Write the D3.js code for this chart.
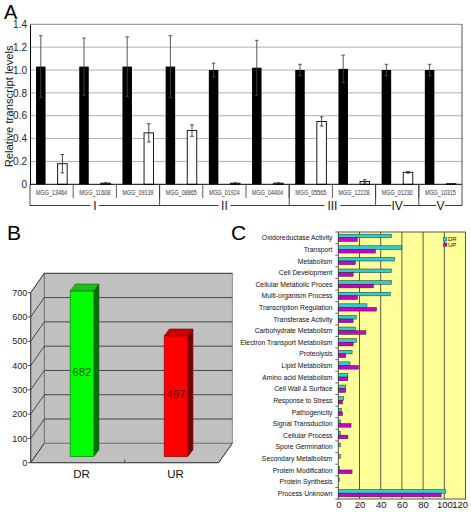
<!DOCTYPE html>
<html><head><meta charset="utf-8">
<script src="https://cdn.jsdelivr.net/npm/d3@7"></script>
<style>
html,body{margin:0;padding:0;background:#fff;}
svg{display:block;font-family:"Liberation Sans",Arial,sans-serif;}
svg text{font-family:"Liberation Sans",Arial,sans-serif;}
</style></head>
<body>
<svg id="chart" width="471" height="512"></svg>
<script>
// ---------- Panel A data ----------
const geneLabels = ["MGG_13464","MGG_11608","MGG_09139","MGG_08865","MGG_01924","MGG_04404","MGG_05565","MGG_12228","MGG_01230","MGG_10315"];
const blackVals = [1.03,1.03,1.03,1.03,1.00,1.02,1.00,1.01,1.00,1.00];
const blackErr  = [0.27,0.25,0.26,0.27,0.06,0.24,0.05,0.12,0.05,0.05];
const whiteVals = [0.18,0.01,0.45,0.47,0.01,0.01,0.55,0.025,0.105,0.005];
const whiteErr  = [0.08,0.003,0.08,0.05,0.003,0.003,0.04,0.015,0.008,0.002];
const groupLabels = ["I","II","III","IV","V"];
const groupSizes  = [3,3,2,1,1];
const yTicksA = [0,0.2,0.4,0.6,0.8,1.0,1.2,1.4];

// ---------- Panel B data ----------
const bCategories = ["DR","UR"];
const bValues = [682,497];
const bTicks = [0,100,200,300,400,500,600,700];

// ---------- Panel C data ----------
const goTerms = ["Oxidoreductase Activity","Transport","Metabolism","Cell Development","Cellular Metabolic Proces","Multi-organism Process","Transcription Regulation","Transferase Activity","Carbohydrate Metabolism","Electron Transport Metabolism","Proteolysis","Lipid Metabolism","Amino acid Metabolism","Cell Wall & Surface","Response to Stress","Pathogenicity","Signal Transduction","Cellular Process","Spore Germination","Secondary Metalbolism","Protein Modification","Protein Synthesis","Process Unknown"];
const drVals = [50,60,53,50,50,49,27,17,16,17,13,11,9,7,5,3,2,2,2,2,1,1,101];
const upVals = [18,35,16,14,33,18,36,14,26,14,7,19,9,7,4,4,12,9,0,0,13,0,97];
const cTicks = [0,20,40,60,80,100,120];

const svg = d3.select("#chart");

// ================= Panel A =================
(function(){
  const L=30, R=462, T=24.3, B=184.3;
  const g = svg.append("g");
  const x = d3.scaleBand().domain(geneLabels).range([L,R]).padding(0);
  const inner = d3.scaleBand().domain(["b","w"]).range([0,x.bandwidth()]).paddingInner(0.56).paddingOuter(0.28);
  const y = d3.scaleLinear().domain([0,1.4]).range([B,T]);

  g.selectAll(".grid").data(yTicksA.filter(d=>d>0 && d<1.4)).enter().append("line")
    .attr("x1",L).attr("x2",R).attr("y1",d=>y(d)).attr("y2",d=>y(d))
    .attr("stroke","#b0b0b0").attr("stroke-width",1);
  g.append("line").attr("x1",L).attr("x2",R).attr("y1",y(1.4)).attr("y2",y(1.4)).attr("stroke","#888");
  g.append("line").attr("x1",R).attr("x2",R).attr("y1",y(1.4)).attr("y2",B).attr("stroke","#555");

  const idx = d3.range(geneLabels.length);
  g.selectAll(".bb").data(idx).enter().append("rect")
    .attr("x",i=>x(geneLabels[i])+inner("b")).attr("width",inner.bandwidth())
    .attr("y",i=>y(blackVals[i])).attr("height",i=>B-y(blackVals[i]))
    .attr("fill","#000");
  g.selectAll(".wb").data(idx).enter().append("rect")
    .attr("x",i=>x(geneLabels[i])+inner("w")).attr("width",inner.bandwidth())
    .attr("y",i=>y(whiteVals[i])).attr("height",i=>B-y(whiteVals[i]))
    .attr("fill","#fff").attr("stroke","#000").attr("stroke-width",0.9);

  function err(vals, errs, key, col){
    idx.forEach(i=>{
      const cx = x(geneLabels[i])+inner(key)+inner.bandwidth()/2;
      const y1 = y(vals[i]+errs[i]), y0 = y(Math.max(0,vals[i]-errs[i]));
      g.append("line").attr("x1",cx).attr("x2",cx).attr("y1",y1).attr("y2",y0).attr("stroke",col).attr("stroke-width",0.9);
      g.append("line").attr("x1",cx-1.8).attr("x2",cx+1.8).attr("y1",y1).attr("y2",y1).attr("stroke",col).attr("stroke-width",0.9);
      g.append("line").attr("x1",cx-1.8).attr("x2",cx+1.8).attr("y1",y0).attr("y2",y0).attr("stroke",col).attr("stroke-width",0.9);
    });
  }
  err(blackVals,blackErr,"b","#444");
  err(whiteVals,whiteErr,"w","#333");

  const ax = d3.axisLeft(y).tickValues(yTicksA).tickSize(0).tickPadding(3)
    .tickFormat(d=>d===0?"0":d3.format(".1f")(d));
  const ag = g.append("g").attr("transform",`translate(${L},0)`).call(ax);
  ag.select(".domain").attr("stroke","#000");
  ag.selectAll("text").attr("font-size","10px").attr("fill","#222").attr("font-family",null);
  g.append("line").attr("x1",L).attr("x2",R).attr("y1",B).attr("y2",B).attr("stroke","#000");

  g.append("text").attr("transform",`translate(12.5,${(T+B)/2+2}) rotate(-90)`)
    .attr("text-anchor","middle").attr("font-size","11px").attr("fill","#111")
    .attr("textLength",122).attr("lengthAdjust","spacingAndGlyphs")
    .text("Relative transcript levels");

  g.selectAll(".gl").data(geneLabels).enter().append("text")
    .attr("x",d=>x(d)+x.bandwidth()/2).attr("y",195)
    .attr("text-anchor","middle").attr("font-size","7.5px").attr("fill","#333")
    .attr("textLength",31).attr("lengthAdjust","spacingAndGlyphs").text(d=>d);
  geneLabels.forEach((d,i)=>{ if(i>0){
    g.append("line").attr("x1",x(d)).attr("x2",x(d)).attr("y1",B).attr("y2",198).attr("stroke","#333").attr("stroke-width",0.8);
  }});
  let start=0; const lineY=205.5;
  groupSizes.forEach((n,gi)=>{
    const x0 = x(geneLabels[start]);
    const x1 = (start+n<geneLabels.length) ? x(geneLabels[start+n]) : R;
    g.append("line").attr("x1",x0).attr("x2",x0).attr("y1",B).attr("y2",lineY).attr("stroke","#333").attr("stroke-width",0.9);
    if(start+n>=geneLabels.length) g.append("line").attr("x1",x1).attr("x2",x1).attr("y1",B).attr("y2",lineY).attr("stroke","#333").attr("stroke-width",0.9);
    const cx=(x0+x1)/2, hw = groupLabels[gi].length*1.8+2.5;
    g.append("line").attr("x1",x0).attr("x2",cx-hw).attr("y1",lineY).attr("y2",lineY).attr("stroke","#222").attr("stroke-width",0.9);
    g.append("line").attr("x1",cx+hw).attr("x2",x1).attr("y1",lineY).attr("y2",lineY).attr("stroke","#222").attr("stroke-width",0.9);
    g.append("text").attr("x",cx).attr("y",lineY+4.3).attr("text-anchor","middle")
      .attr("font-size","12px").attr("fill","#222").text(groupLabels[gi]);
    start+=n;
  });
  g.append("text").attr("x",4).attr("y",18.5).attr("font-size","20px").attr("fill","#000").text("A");
})();

// ================= Panel B =================
(function(){
  const g = svg.append("g");
  const FL=30.7, FR=218.7, FB=462.7;
  const dx=13.6, dy=-19.4;
  const y = d3.scaleLinear().domain([0,700]).range([0,170]);
  const x = d3.scaleBand().domain(bCategories).range([FL,FR]).paddingInner(0.75).paddingOuter(0.375);
  const wall="#c0c0c0", line="#3a3a3a";
  g.append("rect").attr("x",FL+dx).attr("y",FB+dy-y(700)).attr("width",FR-FL).attr("height",y(700))
    .attr("fill",wall).attr("stroke","#777").attr("stroke-width",0.8);
  g.append("path").attr("d",`M${FL},${FB} L${FL},${FB-y(700)} L${FL+dx},${FB+dy-y(700)} L${FL+dx},${FB+dy} Z`)
    .attr("fill",wall).attr("stroke","#666").attr("stroke-width",0.8);
  g.append("path").attr("d",`M${FL},${FB} L${FR},${FB} L${FR+dx},${FB+dy} L${FL+dx},${FB+dy} Z`)
    .attr("fill",wall).attr("stroke","#666").attr("stroke-width",0.8);
  bTicks.forEach(t=>{
    if(t>0) g.append("line").attr("x1",FL+dx).attr("x2",FR+dx).attr("y1",FB+dy-y(t)).attr("y2",FB+dy-y(t)).attr("stroke",line).attr("stroke-width",0.9);
    g.append("line").attr("x1",FL).attr("x2",FL+dx).attr("y1",FB-y(t)).attr("y2",FB+dy-y(t)).attr("stroke",line).attr("stroke-width",0.9);
    g.append("line").attr("x1",FL-3).attr("x2",FL).attr("y1",FB-y(t)).attr("y2",FB-y(t)).attr("stroke",line).attr("stroke-width",0.9);
    g.append("text").attr("x",FL-3.5).attr("y",FB-y(t)+3.2).attr("text-anchor","end")
      .attr("font-size","9px").attr("fill","#222").text(t);
  });
  g.append("line").attr("x1",FL).attr("x2",FL).attr("y1",FB).attr("y2",FB-y(700)).attr("stroke","#444");
  g.append("line").attr("x1",FL).attr("x2",FR).attr("y1",FB).attr("y2",FB).attr("stroke","#444");
  g.append("line").attr("x1",FR).attr("x2",FR+dx).attr("y1",FB).attr("y2",FB+dy).attr("stroke","#444");
  g.append("line").attr("x1",x.step()+FL).attr("x2",x.step()+FL).attr("y1",FB-3).attr("y2",FB+0.5).attr("stroke","#444");

  const bf=0.31, bx=dx*bf, by=dy*bf;
  const ddx=5.3, ddy=-7;
  const cols = [{front:"#00ff00",top:"#22bb22",side:"#006e00",stroke:"#0a6a0a",txt:"#005500"},
                {front:"#ff0000",top:"#c80000",side:"#7a0000",stroke:"#7a0000",txt:"#5a0000"}];
  bCategories.forEach((c,i)=>{
    const x0=x(c)+bx, w=x.bandwidth(), yb=FB+by, yt=yb-y(bValues[i]);
    const col=cols[i];
    g.append("path").attr("d",`M${x0+w},${yb} L${x0+w},${yt} L${x0+w+ddx},${yt+ddy} L${x0+w+ddx},${yb+ddy} Z`)
      .attr("fill",col.side).attr("stroke",col.stroke).attr("stroke-width",0.6);
    g.append("path").attr("d",`M${x0},${yt} L${x0+w},${yt} L${x0+w+ddx},${yt+ddy} L${x0+ddx},${yt+ddy} Z`)
      .attr("fill",col.top).attr("stroke",col.stroke).attr("stroke-width",0.6);
    g.append("rect").attr("x",x0).attr("y",yt).attr("width",w).attr("height",yb-yt)
      .attr("fill",col.front).attr("stroke",col.stroke).attr("stroke-width",0.6);
    g.append("text").attr("x",x0+w/2).attr("y",i===0?375.8:397.5).attr("text-anchor","middle")
      .attr("font-size","11.5px").attr("fill",col.txt).text(bValues[i]);
    g.append("text").attr("x",x(c)+w/2+bx*0.9).attr("y",477.5).attr("text-anchor","middle")
      .attr("font-size","11.5px").attr("fill","#111").text(c);
  });
  g.append("text").attr("x",7).attr("y",240).attr("font-size","21px").attr("fill","#000").text("B");
})();

// ================= Panel C =================
(function(){
  const L=338.3, R=465.5, T=232, B=499;
  const g = svg.append("g");
  const x = d3.scaleLinear().domain([0,120]).range([L,R]);
  const y = d3.scaleBand().domain(goTerms).range([T,B]).padding(0);
  const inner = d3.scaleBand().domain(["DR","UP"]).range([0,y.bandwidth()]).paddingInner(0).paddingOuter(0.6);
  g.append("rect").attr("x",L).attr("y",T).attr("width",R-L).attr("height",B-T).attr("fill","#ffff99");
  cTicks.filter(t=>t>0&&t<120).forEach(t=>{
    g.append("line").attr("x1",x(t)).attr("x2",x(t)).attr("y1",T).attr("y2",B).attr("stroke","#4a4a3a").attr("stroke-width",0.9);
  });
  g.append("rect").attr("x",L).attr("y",T).attr("width",R-L).attr("height",B-T).attr("fill","none").attr("stroke","#444").attr("stroke-width",0.9);
  const cols={DR:"#33cccc",UP:"#cc00cc"};
  const vals={DR:drVals,UP:upVals};
  ["DR","UP"].forEach(k=>{
    g.selectAll(".b"+k).data(goTerms).enter().append("rect")
      .attr("x",L).attr("y",d=>y(d)+inner(k)).attr("height",inner.bandwidth())
      .attr("width",(d,i)=>x(vals[k][i])-L)
      .attr("fill",cols[k]).attr("stroke","#222").attr("stroke-width",0.5)
      .attr("display",(d,i)=>vals[k][i]>0?null:"none");
  });
  goTerms.concat([null]).forEach((d,i)=>{
    const yy = d? y(d): B;
    g.append("line").attr("x1",L-3).attr("x2",L).attr("y1",yy).attr("y2",yy).attr("stroke","#444").attr("stroke-width",0.8);
  });
  g.selectAll(".cl").data(goTerms).enter().append("text")
    .attr("x",332.5).attr("y",d=>y(d)+y.bandwidth()/2+2.6)
    .attr("text-anchor","end").attr("font-size","6.8px").attr("fill","#111").text(d=>d);
  const ax = d3.axisBottom(x).tickValues(cTicks).tickSize(0).tickPadding(2.5);
  const ag = g.append("g").attr("transform",`translate(0,${B})`).call(ax);
  ag.select(".domain").remove();
  ag.selectAll("text").attr("font-size","9.5px").attr("fill","#111").attr("font-family",null);
  ag.selectAll(".tick").filter(d=>d===120).select("text").attr("text-anchor","end").attr("x",2);
  [["DR",239.3],["UP",244.6]].forEach(([k,yy])=>{
    g.append("rect").attr("x",443.5).attr("y",yy-1.7).attr("width",3.4).attr("height",3.4).attr("fill",cols[k]).attr("stroke","#222").attr("stroke-width",0.4);
    g.append("text").attr("x",448).attr("y",yy+2).attr("font-size","6px").attr("fill","#111").text(k);
  });
  g.append("text").attr("x",231).attr("y",240).attr("font-size","21px").attr("fill","#000").text("C");
})();
</script>
</body></html>
